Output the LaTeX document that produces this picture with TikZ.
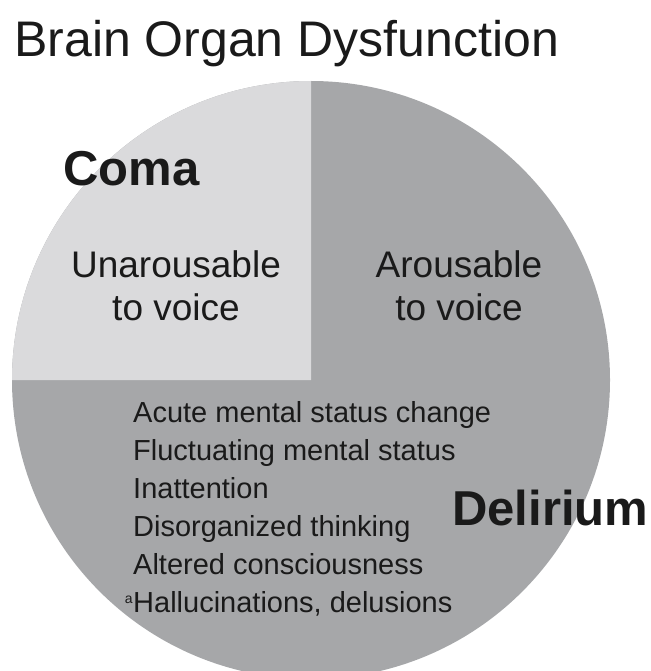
\documentclass[tikz,border=0pt]{standalone}
\usepackage{fontspec}
\setmainfont{Liberation Sans}
\usetikzlibrary{positioning}
\definecolor{comagray}{HTML}{DADADC}
\definecolor{delgray}{HTML}{A6A7A9}
\definecolor{ink}{HTML}{1A1A1A}
\newcommand{\footmark}{\llap{\raisebox{9pt}{\fontsize{14}{14}\selectfont a}\hspace{0.5pt}}}

\begin{document}
\begin{tikzpicture}[x=1pt,y=-1pt,
  every node/.style={inner sep=0pt,text=ink},
  bigword/.style={anchor=base west,font=\fontsize{49}{55}\selectfont\bfseries},
  voiceword/.style={anchor=base,font=\fontsize{37}{43}\selectfont},
  signword/.style={anchor=base west,font=\fontsize{29}{38}\selectfont}]
 \useasboundingbox (0,0) rectangle (650,671);
 \clip (0,0) rectangle (650,671);
 % the two zones of the circle
 \fill[delgray] (311,380) circle[radius=299pt];
 \fill[comagray] (311,380) -- (12,380) arc[start angle=180,end angle=90,radius=299pt] -- cycle;
 \node[anchor=base west,font=\fontsize{50}{56}\selectfont] (title) at (14,57) {Brain Organ Dysfunction};
 \node[bigword] (coma) at (63,185) {Coma};
 \node[bigword] (delir) at (452,525) {Delirium};
 \node[voiceword] (unar1) at (176,277) {Unarousable};
 \node[voiceword] (unar2) at (176,320) {to voice};
 \node[voiceword] (arous1) at (459,277) {Arousable};
 \node[voiceword] (arous2) at (459,320) {to voice};
 % features of delirium
 \foreach \t [count=\i from 0] in {Acute mental status change,Fluctuating mental status,Inattention,Disorganized thinking,Altered consciousness,{\footmark Hallucinations, delusions}}{
  \node[signword] (sign\i) at (133,{422+38*\i}) {\t};}
\end{tikzpicture}
\end{document}
